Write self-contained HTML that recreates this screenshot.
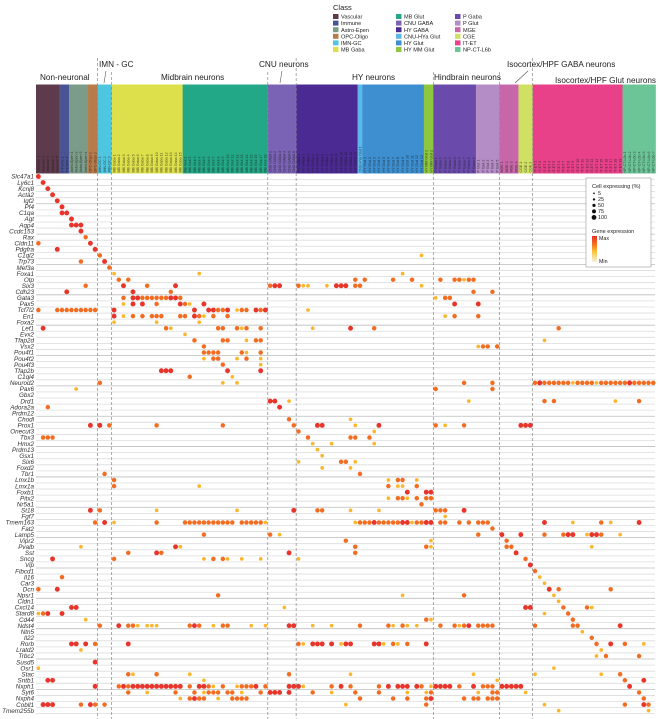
<!DOCTYPE html>
<html><head><meta charset="utf-8"><style>
html,body{margin:0;padding:0;background:#fff;}
svg{display:block;font-family:"Liberation Sans",sans-serif;}
.gl{font-style:italic;font-size:6.3px;fill:#333;}
</style></head><body>
<svg id="chart" width="658" height="719" viewBox="0 0 658 719" xmlns="http://www.w3.org/2000/svg">
<g id="hdr"></g>
<g id="grid"></g>
<g id="dots"></g>
<g id="labels"></g>
<g id="groups">
<text x="40" y="80" font-size="8.2" fill="#222">Non-neuronal</text>
<text x="99" y="67" font-size="8.2" fill="#222">IMN - GC</text>
<line x1="106" y1="71" x2="104" y2="83" stroke="#555" stroke-width="0.6"/>
<text x="161" y="80" font-size="8.2" fill="#222">Midbrain neurons</text>
<text x="259" y="67" font-size="8.2" fill="#222">CNU neurons</text>
<line x1="282" y1="71" x2="280" y2="83" stroke="#555" stroke-width="0.6"/>
<text x="352" y="80" font-size="8.2" fill="#222">HY neurons</text>
<text x="434" y="80" font-size="8.2" fill="#222">Hindbrain neurons</text>
<text x="507" y="67" font-size="8.2" fill="#222">Isocortex/HPF GABA neurons</text>
<line x1="528" y1="71" x2="515" y2="83" stroke="#555" stroke-width="0.6"/>
<text x="555" y="83" font-size="8.2" fill="#222">Isocortex/HPF Glut neurons</text>
</g>
<g id="classleg">
<text x="333" y="10" font-size="7.5" fill="#222">Class</text>
</g>
<g id="sizeleg">
<rect x="586" y="178" width="65" height="89" fill="#fff" stroke="#999" stroke-width="0.6"/>
<text x="592" y="188" font-size="5.6" fill="#222">Cell expressing (%)</text>
<defs><linearGradient id="gexp" x1="0" y1="0" x2="0" y2="1">
<stop offset="0" stop-color="#e8322a"/><stop offset="0.35" stop-color="#f47a20"/><stop offset="0.6" stop-color="#fbc43a"/><stop offset="1" stop-color="#f3f1e6"/></linearGradient></defs>
<text x="592" y="233" font-size="5.6" fill="#222">Gene expression</text>
<rect x="592" y="236" width="5" height="26" fill="url(#gexp)"/>
<text x="599" y="240" font-size="5.3" fill="#222">Max</text>
<text x="599" y="263" font-size="5.3" fill="#222">Min</text>
</g>
</svg>
<script>
const genes = ["Slc47a1","Ly6c1","Kcnj8","Acta2","Igf2","Pf4","C1qa","Agt","Aqp4","Ccdc153","Rax","Cldn11","Pdgfra","C1ql2","Trp73","Mef3a","Foxa1","Otp","Six3","Cdh23","Gata3","Pax5","Tcf7l2","En1","Foxa2","Lef1","Evx2","Tfap2d","Vsx2","Pou4f1","Pou4f2","Pou4f3","Tfap2b","C1ql4","Neurod2","Pax6","Gbx2","Drd1","Adora2a","Prdm12","Chodl","Prox1","Onecut3","Tbx3","Hmx2","Prdm13","Gsx1","Six6","Foxd2","Tbr1","Lmx1b","Lmx1a","Foxb1","Pitx2","Nr5a1","St18","Fgf7","Tmem163","Fat2","Lamp5","Vipr2","Pvalb","Sst","Sncg","Vip","Fibcd1","Il16","Car3","Dcn","Npsr1","Cldn1","Cxcl14","Stard8","Cd44","Ndst4","Ntn5","Il22","Rorb","Lratd2","Trbc2","Susd5","Osr1","Stac","Sntb1","Nxph1","Syt6","Nxph4","Cobll1","Tmem255b"];
const classNames = ["Vascular","Immune","Astro-Epen","OPC-Oligo","IMN-GC","MB Gaba","MB Glut","CNU GABA","HY GABA","CNU-HYa Glut","HY Glut","HY MM Glut","P Gaba","P Glut","MGE","CGE","IT-ET","NP-CT-L6b"];
const classColors = ["#5e3a4d","#4a5394","#7a9c88","#b87b4a","#4fc6df","#dde04a","#23a887","#7a63b5","#4b2a93","#5bb8e8","#3d8fcf","#8dc63f","#6a4bab","#b48cc6","#c766a8","#cfe062","#e8418a","#6cc597"];
const classCounts = [5,2,4,2,3,15,18,6,13,1,13,2,9,5,4,3,19,7];
const groupBreaks = [13,16,49,55,84,98,105];
// expression per gene: "column+level" (r=max, o=mid, y=low)
const expr = [
"0r","1r","2r","3r","4r","5r","5r 6r","7r","7r 8r 9r","9r","10o","0o 11r","4r 12r","13o 81y","9o 14r","15o",
"16y 34y 77y","17o 19o 67o 69o 75o 79o 85o 88o 89o 90y 91o 92o",
"10o 18r 23o 29r 49o 50r 51r 55o 56y 57y 61y 63r 64r 65r 67o 68o 81y",
"6r 20r 28o 92o 96o",
"18o 20r 21r 22o 23o 24o 25o 26o 27o 28r 29r 30o 84y 86o 87o",
"18y 20r 22r 25o 30r 31o 32y 35r 88r 93r",
"0o 4o 5o 6o 7o 8o 9o 10o 11o 12o 16r 33r 36r 37r 38o 39o 40r 42y 43o 44o 46r 47o 48r 57y",
"16r 18y 20o 22o 24o 25o 26o 30o 31o 33r 34o 35y 37o 40o 86y 88o 93o",
"16y 25y 34y",
"1r 27o 28y 38o 39o 42o 43y 44o 47o 58y 66r 71o 110o",
"31y",
"33o 39o 40o 44y 46o 47o 107y",
"35o 93y 94o 95o 97o",
"35o 36o 37o 38o 43o 44y 47o",
"35y 37o 38o 42y 44o 47y",
"39o 47y",
"26r 27r 28r 40r 47r",
"32o 41y",
"13o 39y 42y 90o 96o 105o 106r 107o 108o 109o 110o 111o 112o 113y 114o 115o 116o 117o 118y 119o 120o 121o 122o 123o 124o 125r 126o 127o 128o 129o 130o",
"8y 84o 96o",
"",
"49r 50r 53y 91y 107o 109o 122y 127o",
"2o 51r",
"",
"53o 66y",
"11r 13r 15o 25o 39o 54o 59r 60r 67y 72r 84o 86y 90o 102r 103r 104r",
"55o 71y",
"1o 2o 3o 57o 66o 67o 70o",
"58y 62y 71y",
"59y","60y","55y 64o 65o 67y","60y 66y",
"14o 68o",
"16o 74y 76o 77o 80y",
"16o 34y 74o 76y 77y 80o",
"78r 82r 83r",
"74y 76o 77o 78y 80o 82o 83o",
"81o",
"11r 13o 25y 42y 54r 59o 60o 66y 72y 84o 85o 86o 90r",
"86y",
"12o 14r 16y 25o 31o 32o 33o 34o 35o 36o 37o 38o 39o 40o 41o 43o 44o 45o 46o 47o 48y 67y 68o 69o 70o 71r 72o 73o 74o 75o 76o 77r 78r 79y 80o 81o 82r 83r 85o 86o 89o 91o 93o 94o 95o 107r 113y 119o 121y 127r",
"96o",
"35o 49o 51y 93o 98r 102r 107o 111o 112r 113r 116y 117r 118r 119o 123y",
"65o 83y 99o",
"9y 29r 30y 67o 82o 83y 99o 100o 117y",
"19o 25r 26o 53r 67o 101r",
"3r 16o 35y 37o 39o 40y 43y 47y 55y 103o",
"104r","105o","5o 106y","107y",
"0o 4r 108r 110o 121o",
"38o 77y 90o 109y",
"110y",
"7r 8r 52y 103r 104r 111o 116o 117y",
"0y 1o 2r 5r 107y 112o",
"10y 82o 83y 113o",
"13o 17r 19o 20o 21y 23y 24y 25y 32o 33r 34o 37y 39o 40o 45y 48y 53r 54r 58y 62y 68o 74o 75y 77o 78y 80y 85o 88o 89y 90o 91r 93o 94o 95o 96o 105o 113o 114o 123r",
"115y","117o",
"7r 8r 10r 12o 19r 55o 56y 58r 59r 60r 62r 64y 65r 66r 71r 72r 73y 75o 76y 78o 82r 118o 121r 124o 128y",
"9y 119y",
"118y 120o 127o",
"12r",
"0y 109y",
"19o 20y 25o 32y 53o 66y 92y 105y 119y 123o",
"2r 3r 35y 97y 124o 128r",
"12r 17o 18r 19o 20r 21r 22r 23r 24r 25r 26r 27r 28r 29r 30r 32o 34r 35r 36o 37y 39o 42y 43o 44o 45o 46r 48o 53r 54r 55r 56y 62o 64r 66o 72o 74r 76r 77r 78r 80r 81o 83y 84r 85r 86r 87r 89o 92r 94o 95o 96o 98r 99r 100r 101r 102r 125r",
"19o 23y 29o 33o 35y 36o 37o 38o 40o 41o 43y 47o 49r 50r 51r 53r 58o 62y 67o 72o 78y 82y 83o 93y 96o 97o 103y 127o",
"30y 32o 33r 34o 35o 38y 41o 42o 43o 44o 68o 75o 78o 82o 83r 90o 92o 93o 95o 96o 97o 128o",
"1r 2r 3r 9o 11r 12o 14o 65y 82o 107y 124o 128r 129o",
"110y 129y"
];
const levelColor = {r:"#e8352b", o:"#f26d21", y:"#fbb62a"};
const levelSize = {r:2.45, o:2.25, y:1.85};
const sizeLegend = [5,25,50,75,100];

const NS="http://www.w3.org/2000/svg";
const X0=36, STEP=4.73, Y0=176.5, RSTEP=6.07, HTOP=84.5, HBOT=173.5;
const nCols = classCounts.reduce((a,b)=>a+b,0);
function xScale(c){return X0+(c+0.5)*STEP;}
function xEdge(c){return X0+c*STEP;}
function yScale(i){return Y0+i*RSTEP;}
function mk(tag,attrs,parent){const e=document.createElementNS(NS,tag);for(const k in attrs)e.setAttribute(k,attrs[k]);parent.appendChild(e);return e;}

const hdr=document.getElementById('hdr');
let c0=0;
classCounts.forEach((n,k)=>{
  const r=mk('rect',{x:xEdge(c0),y:HTOP,width:n*STEP+0.2,height:HBOT-HTOP,fill:classColors[k]},hdr);
  
  
  for(let j=0;j<n;j++){
    const x=xScale(c0+j)+1.3;
    const t=mk('text',{x:x,y:HBOT-1,transform:`rotate(-90 ${x} ${HBOT-1})`,'font-size':3.6,fill:'#1a1a1a','fill-opacity':0.75},hdr);
    t.textContent=classNames[k]+' '+(j+1);
    
    
  }
  c0+=n;
});

const grid=document.getElementById('grid');
genes.forEach((g,i)=>{
  const y=yScale(i)+3;
  mk('line',{x1:X0,x2:655,y1:y,y2:y,stroke:(i%5==4)?'#bdbdbd':'#dcdcdc','stroke-width':0.8},grid);
});
groupBreaks.forEach(c=>{
  const x=xEdge(c);
  mk('line',{x1:x,x2:x,y1:(c==13||c==55||c==105)?58:72,y2:719,stroke:'#8a8a8a','stroke-width':0.7,'stroke-dasharray':'3,2'},grid);
});

const dots=document.getElementById('dots');
expr.forEach((s,i)=>{
  if(!s)return;
  s.split(' ').forEach(tok=>{
    const c=parseInt(tok,10), lv=tok.slice(-1);
    const d=mk('circle',{cx:xScale(c),cy:yScale(i),r:levelSize[lv],fill:levelColor[lv]},dots);
    
    
  });
});

const lab=document.getElementById('labels');
genes.forEach((g,i)=>{
  const t=mk('text',{x:34,y:yScale(i)+2.2,'text-anchor':'end',class:'gl'},lab);
  t.textContent=g;
  
  
});

const cl=document.getElementById('classleg');
classNames.forEach((n,k)=>{
  const col=Math.floor(k/6), row=k%6;
  const x=[333,396,455][col], y=14+row*6.6;
  const r=mk('rect',{x:x,y:y,width:5.5,height:5,fill:classColors[k]},cl);
  
  
  const t=mk('text',{x:x+8,y:y+4.6,'font-size':5.6,fill:'#222'},cl);
  t.textContent=n;
  
  
});

const sl=document.getElementById('sizeleg');
sizeLegend.forEach((v,k)=>{
  const y=195+k*6;
  const rr=0.8+v/100*1.6;
  const c=mk('circle',{cx:594,cy:y-1.6,r:rr,fill:'#111'},sl);
  
  
  const t=mk('text',{x:598,y:y,'font-size':5.4,fill:'#222'},sl);
  t.textContent=v;
  
  
});
</script>
</body></html>
